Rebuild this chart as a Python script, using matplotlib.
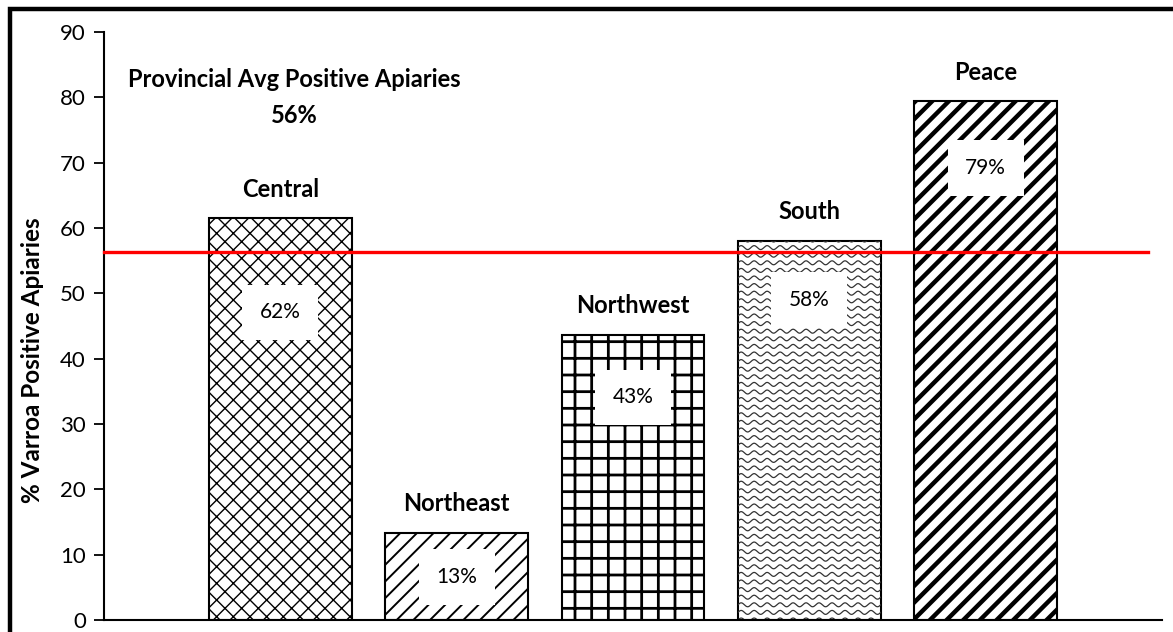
import numpy as np
import matplotlib
matplotlib.use("Agg")
import matplotlib.pyplot as plt
from matplotlib.patches import Rectangle

# data
regions = ["Central", "Northeast", "Northwest", "South", "Peace"]
pct = [61.5, 13.3, 43.6, 58.0, 79.4]
pct_labels = ["62%", "13%", "43%", "58%", "79%"]
label_y = [47.1, 6.6, 34.1, 49.0, 69.2]
hatches = ["xx", "//", "+", None, "//"]
prov_avg = 56.4
prov_text = "Provincial Avg Positive Apiaries\n56%"

plt.rcParams["font.family"] = ["Lato", "DejaVu Sans"]
plt.rcParams["hatch.color"] = "black"
plt.rcParams["hatch.linewidth"] = 1.0

fig = plt.figure(figsize=(11.73, 6.32), dpi=100)
ax = fig.add_axes([104 / 1173, 12 / 632, 1058 / 1173, 588 / 632])

x = np.arange(len(regions))
bars = ax.bar(x, pct, width=0.81, color="white", edgecolor="black", linewidth=1.5, zorder=2)
for b, h in zip(bars, hatches):
    if h:
        b.set_hatch(h)

# heavier hatch lines on the grid and Peace bars
for i, lw in [(1, 1.4), (2, 2.0), (4, 3.2)]:
    try:
        bars[i].set_hatch_linewidth(lw)
    except AttributeError:
        pass

# wavy fill for South (no wave hatch in matplotlib)
sb = bars[3]
x0, w, top = sb.get_x(), sb.get_width(), sb.get_height()
xs = np.linspace(x0, x0 + w, 400)
dy = 90 / 588 * 7.6
for y0 in np.arange(0, top + dy, dy):
    ys = y0 + 0.3 * np.sin((xs - x0) / w * 2 * np.pi * 11)
    ln, = ax.plot(xs, ys, color="#333333", lw=0.9, zorder=2.5)
    ln.set_clip_path(sb)

# region names above the bars
for xi, v, name in zip(x, pct, regions):
    ax.annotate(name, (xi, v), xytext=(0, 21), textcoords="offset points",
                ha="center", va="center", fontsize=17, fontweight="bold", zorder=4)

# percent labels in white boxes
for xi, ly, t in zip(x, label_y, pct_labels):
    ax.text(xi, ly, t, ha="center", va="center", fontsize=15, zorder=4,
            bbox=dict(boxstyle="square,pad=0.85", facecolor="white", edgecolor="none"))

ax.plot([-1, 4.92], [prov_avg, prov_avg], color="red", lw=2.4, zorder=3, clip_on=False)

ax.text(0.08, 80.0, prov_text, ha="center", va="center", fontsize=17,
        fontweight="bold", linespacing=1.7)

ax.set_xlim(-1, 5)
ax.set_ylim(0, 90)
ax.set_yticks(range(0, 91, 10))
ax.set_xticks([])
ax.tick_params(axis="y", direction="out", length=7, width=1.3, labelsize=16, pad=6)
for s in ["top", "right"]:
    ax.spines[s].set_visible(False)
ax.spines["left"].set_linewidth(1.5)
ax.spines["bottom"].set_linewidth(1.5)

fig.text(33 / 1173, 1 - 360 / 632, "% Varroa Positive Apiaries", rotation=90,
         ha="center", va="center", fontsize=17.5, fontweight="bold")

# outer frame (runs off the right and bottom edges)
fig.patches.append(Rectangle((9.5 / 1173, -0.05), 1.1, 1.05 - 9 / 632,
                             transform=fig.transFigure, fill=False,
                             edgecolor="black", linewidth=3.2))

fig.savefig("out.png", dpi=100)
